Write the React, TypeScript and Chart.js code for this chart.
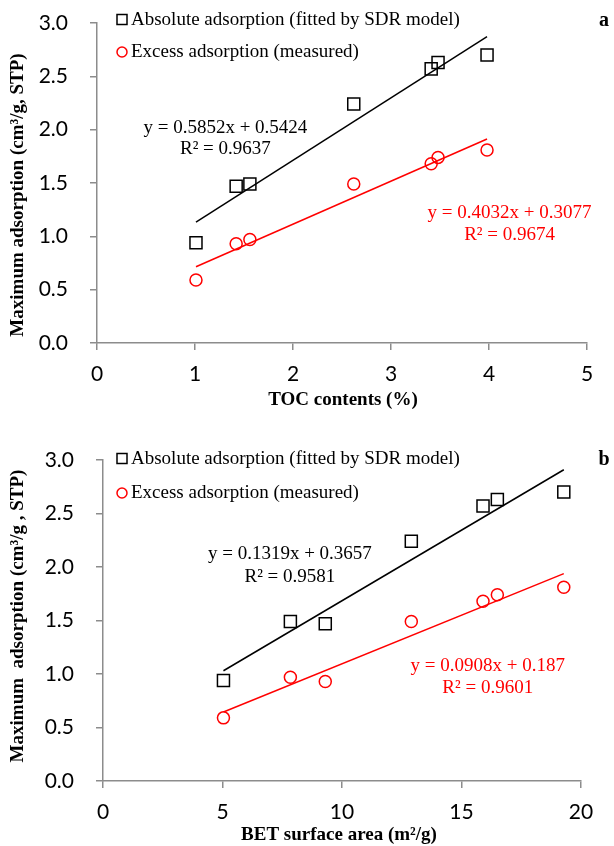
import React, { useEffect, useRef } from "react";
import { Chart, registerables } from "chart.js";

Chart.register(...registerables);

// Seven shale samples, listed in order of TOC content
const tocContents = [1.01, 1.42, 1.56, 2.62, 3.41, 3.48, 3.98];
const betSurfaceArea = [5.04, 9.3, 7.84, 12.9, 15.9, 16.5, 19.28];
const absoluteAdsorption = [0.94, 1.47, 1.49, 2.24, 2.57, 2.63, 2.7];
const excessAdsorption = [0.59, 0.93, 0.97, 1.49, 1.68, 1.74, 1.81];

// Linear fits: [slope, intercept, R²]
const absoluteFitToc = [0.5852, 0.5424, 0.9637];
const excessFitToc = [0.4032, 0.3077, 0.9674];
const absoluteFitBet = [0.1319, 0.3657, 0.9581];
const excessFitBet = [0.0908, 0.187, 0.9601];

const yTicks = [0, 0.5, 1, 1.5, 2, 2.5, 3];

const AXIS_GREY = "#8c8c8c";
const RED = "#ff0000";
const SERIF = "'Liberation Serif', 'Times New Roman', serif";
const TICK_FONT = "Lato";

type Panel = {
  letter: string;
  xs: number[];
  xMax: number;
  xStep: number;
  xTitle: string;
  yTitle: string;
  absFit: number[];
  excFit: number[];
  // canvas placement on the page, and plot-area edges in page pixels
  canvasTop: number;
  canvasBottom: number;
  left: number;
  right: number;
  top: number;
  bottom: number;
  // equation anchors in data units: [x, y of first line, y of second line]
  absEqAt: number[];
  excEqAt: number[];
  // page-pixel anchors for titles, legend rows and panel letter
  xTitleAt: number[];
  yTitleAt: number[];
  legendY: number[];
  letterY: number;
};

const WIDTH = 614;

const panels: Panel[] = [
  {
    letter: "a",
    xs: tocContents,
    xMax: 5,
    xStep: 1,
    xTitle: "TOC contents (%)",
    yTitle: "Maximum adsorption (cm\u00b3/g, STP)",
    absFit: absoluteFitToc,
    excFit: excessFitToc,
    canvasTop: -16,
    canvasBottom: 423,
    left: 97,
    right: 587,
    top: 23,
    bottom: 343,
    absEqAt: [1.31, 2.02, 1.819],
    excEqAt: [4.21, 1.222, 1.012],
    xTitleAt: [343, 400],
    yTitleAt: [18, 195],
    legendY: [20, 52],
    letterY: 21,
  },
  {
    letter: "b",
    xs: betSurfaceArea,
    xMax: 20,
    xStep: 5,
    xTitle: "BET surface area (m\u00b2/g)",
    yTitle: "Maximum  adsorption (cm\u00b3/g , STP)",
    absFit: absoluteFitBet,
    excFit: excessFitBet,
    canvasTop: 423,
    canvasBottom: 846,
    left: 103,
    right: 581,
    top: 460,
    bottom: 781,
    absEqAt: [7.82, 2.121, 1.906],
    excEqAt: [16.1, 1.073, 0.872],
    xTitleAt: [339, 835],
    yTitleAt: [18, 616],
    legendY: [459, 493],
    letterY: 460,
  },
];

function fitLine(xs: number[], fit: number[]) {
  const lo = Math.min(...xs);
  const hi = Math.max(...xs);
  return [
    { x: lo, y: fit[0] * lo + fit[1] },
    { x: hi, y: fit[0] * hi + fit[1] },
  ];
}

function textPlugin(p: Panel) {
  return {
    id: "panelText",
    afterDraw(chart: any) {
      const { ctx } = chart;
      const xs = chart.scales.x;
      const ys = chart.scales.y;
      ctx.save();
      ctx.textBaseline = "middle";
      const oy = p.canvasTop;

      // legend
      ctx.font = `19px ${SERIF}`;
      ctx.fillStyle = "#000";
      ctx.textAlign = "left";
      ctx.strokeStyle = "#000";
      ctx.lineWidth = 1.5;
      ctx.strokeRect(117, p.legendY[0] - oy - 5.5, 10, 10);
      ctx.fillText("Absolute adsorption (fitted by SDR model)", 131, p.legendY[0] - oy);
      ctx.strokeStyle = RED;
      ctx.beginPath();
      ctx.arc(122, p.legendY[1] - oy, 5, 0, Math.PI * 2);
      ctx.stroke();
      ctx.fillText("Excess adsorption (measured)", 131, p.legendY[1] - oy);

      // regression equations
      ctx.textAlign = "center";
      const eq = (fit: number[], at: number[], color: string) => {
        ctx.fillStyle = color;
        const cx = xs.getPixelForValue(at[0]);
        ctx.fillText(`y = ${fit[0]}x + ${fit[1]}`, cx, ys.getPixelForValue(at[1]));
        ctx.fillText(`R\u00b2 = ${fit[2]}`, cx, ys.getPixelForValue(at[2]));
      };
      eq(p.absFit, p.absEqAt, "#000");
      eq(p.excFit, p.excEqAt, RED);

      // axis titles
      ctx.fillStyle = "#000";
      ctx.font = `bold 19px ${SERIF}`;
      ctx.fillText(p.xTitle, p.xTitleAt[0], p.xTitleAt[1] - oy);
      ctx.save();
      ctx.translate(p.yTitleAt[0], p.yTitleAt[1] - oy);
      ctx.rotate(-Math.PI / 2);
      ctx.fillText(p.yTitle, 0, 0);
      ctx.restore();

      // panel letter
      ctx.font = `bold 20px ${SERIF}`;
      ctx.fillText(p.letter, 604, p.letterY - oy);
      ctx.restore();
    },
  };
}

function PanelChart({ p }: { p: Panel }) {
  const ref = useRef<HTMLCanvasElement | null>(null);
  const height = p.canvasBottom - p.canvasTop;

  useEffect(() => {
    if (!ref.current) return;
    const absPts = p.xs.map((x, i) => ({ x, y: absoluteAdsorption[i] }));
    const excPts = p.xs.map((x, i) => ({ x, y: excessAdsorption[i] }));
    const chart = new Chart(ref.current, {
      type: "scatter",
      data: {
        datasets: [
          {
            data: absPts,
            pointStyle: "rect",
            pointRadius: 8.5,
            pointBorderColor: "#000",
            pointBackgroundColor: "rgba(0,0,0,0)",
            pointBorderWidth: 1.5,
          },
          {
            data: excPts,
            pointStyle: "circle",
            pointRadius: 6,
            pointBorderColor: RED,
            pointBackgroundColor: "rgba(0,0,0,0)",
            pointBorderWidth: 1.5,
          },
          {
            data: fitLine(p.xs, p.absFit),
            showLine: true,
            borderColor: "#000",
            borderWidth: 1.5,
            pointRadius: 0,
          },
          {
            data: fitLine(p.xs, p.excFit),
            showLine: true,
            borderColor: RED,
            borderWidth: 1.5,
            pointRadius: 0,
          },
        ],
      },
      options: {
        responsive: false,
        animation: false,
        layout: {
          padding: {
            left: 0,
            right: WIDTH - p.right,
            top: p.top - p.canvasTop,
            bottom: 0,
          },
        },
        plugins: { legend: { display: false }, tooltip: { enabled: false } },
        scales: {
          x: {
            type: "linear",
            min: 0,
            max: p.xMax,
            ticks: {
              stepSize: p.xStep,
              color: "#000",
              font: { family: TICK_FONT, size: 21 },
              padding: 12,
            },
            grid: {
              drawOnChartArea: false,
              drawTicks: true,
              tickLength: 7,
              color: AXIS_GREY,
              lineWidth: 1.5,
            },
            border: { color: AXIS_GREY, width: 1.5 },
            afterFit: (s: any) => {
              s.height = p.canvasBottom - p.bottom;
            },
          },
          y: {
            type: "linear",
            min: 0,
            max: 3,
            afterBuildTicks: (s: any) => {
              s.ticks = yTicks.map((v) => ({ value: v }));
            },
            ticks: {
              color: "#000",
              font: { family: TICK_FONT, size: 21 },
              padding: 22,
              callback: (v: any) => Number(v).toFixed(1),
            },
            grid: {
              drawOnChartArea: false,
              drawTicks: true,
              tickLength: 7,
              color: AXIS_GREY,
              lineWidth: 1.5,
            },
            border: { color: AXIS_GREY, width: 1.5 },
            afterFit: (s: any) => {
              s.width = p.left;
            },
          },
        },
      },
      plugins: [textPlugin(p)],
    } as any);
    return () => chart.destroy();
  }, [p]);

  return (
    <canvas
      ref={ref}
      width={WIDTH}
      height={height}
      style={{ position: "absolute", left: 0, top: p.canvasTop, display: "block" }}
    />
  );
}

export default function App() {
  return (
    <div
      style={{
        position: "absolute",
        left: 0,
        top: 0,
        width: WIDTH,
        height: 846,
        background: "#fff",
        overflow: "hidden",
      }}
    >
      <PanelChart p={panels[0]} />
      <PanelChart p={panels[1]} />
    </div>
  );
}
